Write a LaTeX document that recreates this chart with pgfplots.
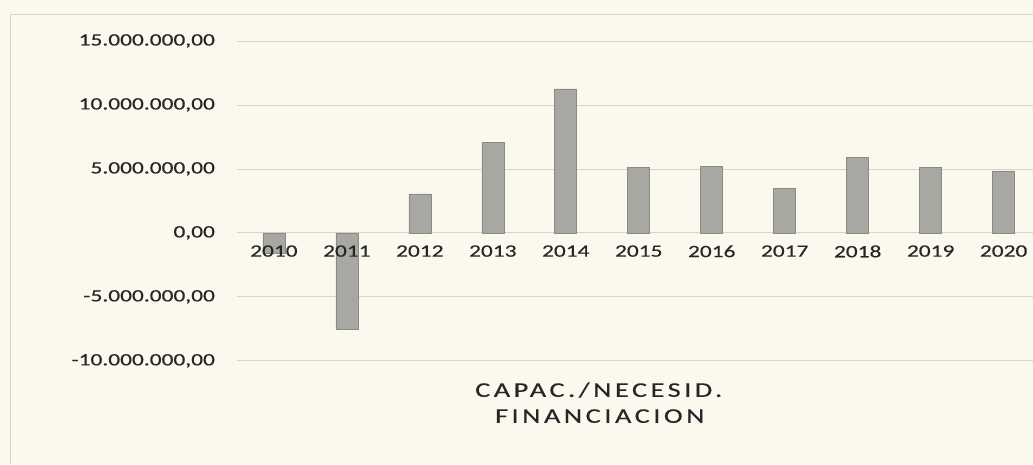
\documentclass[border=0pt]{standalone}
\usepackage{pgfplots}
\pgfplotsset{compat=1.18}
\usepackage{fontspec}
\setmainfont{Carlito}[FakeStretch=1.35,FakeBold=0.4]
\newfontfamily\titlefont{Carlito}[FakeStretch=1.35,LetterSpace=17,FakeBold=0.4]
\definecolor{bg}{HTML}{FBF9EE}
\definecolor{gridc}{HTML}{D6D5CC}
\definecolor{barc}{HTML}{A8A8A3}
\definecolor{bare}{HTML}{8A8A86}
\definecolor{txt}{HTML}{262626}
\begin{document}
\begin{tikzpicture}[x=1bp,y=1bp]
\fill[bg] (0,0) rectangle (1033,464);
\draw[gridc, line width=0.8bp] (10,0) -- (10,450) -- (1033,450);
\begin{axis}[
  at={(237.5bp,103bp)}, anchor=south west, scale only axis,
  width=795.5bp, height=320bp,
  xmin=-0.5, xmax=10.397, ymin=-10000000, ymax=15000000,
  axis line style={draw=none}, tick style={draw=none},
  ymajorgrids, grid style={gridc, line width=0.8bp},
  ytick={-10000000,-5000000,0,5000000,10000000,15000000},
  scaled y ticks=false,
  y tick label style={/pgf/number format/fixed, /pgf/number format/precision=2,
    /pgf/number format/zerofill, /pgf/number format/1000 sep={.},
    /pgf/number format/use comma, /pgf/number format/assume math mode=true,
    font=\fontsize{17.4}{20}\selectfont, text=txt, xshift=-19bp},
  xtick=\empty,
  clip=false,
]
\addplot[ybar, bar width=22bp, fill=barc, draw=bare, line width=0.6bp] coordinates {
  (0,-1600000) (1,-7500000) (2,3050000) (3,7100000) (4,11250000)
  (5,5100000) (6,5200000) (7,3500000) (8,5900000) (9,5100000) (10,4850000)
};
% category labels, drawn over the bars at the zero line
\addplot[draw=none, mark=none, point meta=explicit symbolic,
  nodes near coords,
  every node near coord/.style={anchor=north, yshift=-9bp, text=txt,
    font=\fontsize{17.4}{20}\selectfont}] coordinates {
  (0,0) [2010] (1,0) [2011] (2,0) [2012] (3,0) [2013] (4,0) [2014]
  (5,0) [2015] (6,0) [2016] (7,0) [2017] (8,0) [2018] (9,0) [2019] (10,0) [2020]
};
\end{axis}
\node[font=\titlefont\fontsize{21}{26}\selectfont, text=txt, anchor=base] at (599,67) {CAPAC./NECESID.};
\node[font=\titlefont\fontsize{21}{26}\selectfont, text=txt, anchor=base] at (600,41) {FINANCIACION};
\end{tikzpicture}
\end{document}
